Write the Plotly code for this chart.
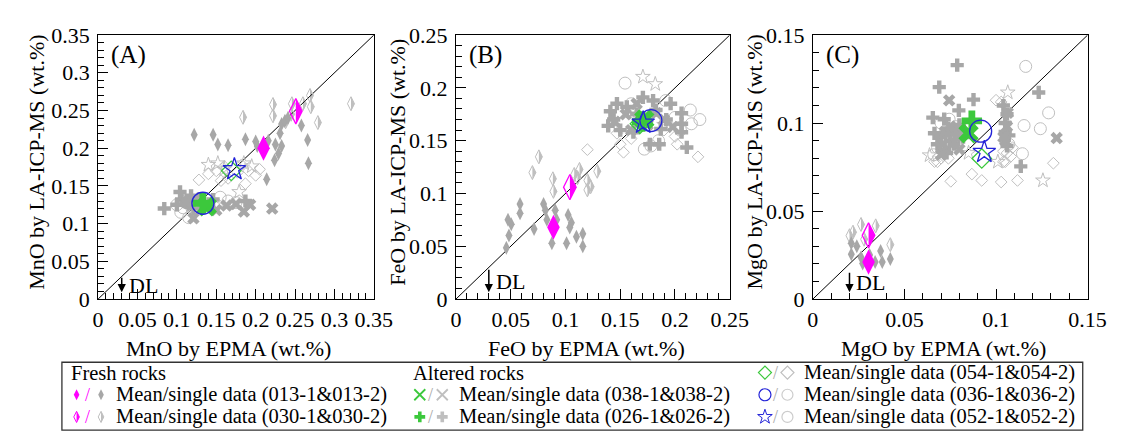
import plotly.graph_objects as go

W, H = 1126, 437
FONT = "Liberation Serif, Times New Roman, serif"

SAMPLES = ["013", "030", "038", "026", "054", "036", "052"]

# ---------------- Panel A : MnO ----------------
A_LIM = 0.35
A_013_x = [0.122, 0.146, 0.152, 0.165, 0.187, 0.202, 0.225, 0.231, 0.233, 0.237, 0.224, 0.214, 0.258, 0.266, 0.267, 0.233, 0.229, 0.241, 0.216, 0.200]
A_013_y = [0.218, 0.218, 0.205, 0.204, 0.212, 0.203, 0.205, 0.220, 0.232, 0.236, 0.184, 0.159, 0.230, 0.211, 0.180, 0.203, 0.193, 0.240, 0.210, 0.209]
A_030_x = [0.184, 0.222, 0.222, 0.246, 0.260, 0.269, 0.270, 0.279, 0.321, 0.238, 0.245]
A_030_y = [0.241, 0.258, 0.243, 0.259, 0.259, 0.270, 0.255, 0.234, 0.259, 0.235, 0.245]
A_038_x = [0.121, 0.175, 0.185, 0.193, 0.221, 0.163, 0.150, 0.112]
A_038_y = [0.107, 0.126, 0.116, 0.125, 0.120, 0.124, 0.118, 0.128]
A_026_x = [0.084, 0.104, 0.106, 0.112, 0.121, 0.100, 0.146, 0.187, 0.118, 0.128]
A_026_y = [0.120, 0.142, 0.132, 0.128, 0.120, 0.125, 0.132, 0.130, 0.137, 0.133]
A_054_x = [0.128, 0.140, 0.150, 0.160, 0.156, 0.187, 0.200, 0.191, 0.205, 0.177, 0.165, 0.182]
A_054_y = [0.158, 0.166, 0.170, 0.176, 0.157, 0.153, 0.164, 0.170, 0.172, 0.168, 0.160, 0.178]
A_036_x = [0.100, 0.105, 0.110, 0.120, 0.115, 0.155, 0.165, 0.175, 0.150, 0.108]
A_036_y = [0.125, 0.115, 0.130, 0.120, 0.108, 0.135, 0.130, 0.128, 0.125, 0.121]
A_052_x = [0.140, 0.152, 0.179, 0.185, 0.160, 0.195]
A_052_y = [0.178, 0.180, 0.142, 0.180, 0.172, 0.176]
A_mean_x = [0.210, 0.251, 0.138, 0.133, 0.169, 0.133, 0.173]
A_mean_y = [0.200, 0.249, 0.123, 0.127, 0.170, 0.127, 0.172]

# ---------------- Panel B : FeO ----------------
B_LIM = 0.25
B_013_x = [0.0475, 0.0505, 0.0484, 0.046, 0.0585, 0.0585, 0.0713, 0.080, 0.0817, 0.083, 0.0876, 0.0906, 0.092, 0.1024, 0.1054, 0.1039, 0.101, 0.110, 0.1158, 0.1158]
B_013_y = [0.0752, 0.0708, 0.0603, 0.0485, 0.090, 0.0812, 0.0663, 0.090, 0.0841, 0.075, 0.0529, 0.0841, 0.075, 0.0797, 0.0722, 0.0678, 0.0529, 0.0589, 0.0618, 0.050]
B_030_x = [0.0757, 0.0698, 0.0885, 0.089, 0.1128, 0.111, 0.120, 0.123, 0.129, 0.108, 0.120]
B_030_y = [0.1347, 0.1198, 0.1139, 0.102, 0.1228, 0.115, 0.1124, 0.1064, 0.121, 0.118, 0.1034]
B_038_x = [0.155, 0.165, 0.190, 0.160, 0.175, 0.145, 0.183, 0.198]
B_038_y = [0.175, 0.185, 0.170, 0.160, 0.165, 0.168, 0.176, 0.163]
B_026_x = [0.141, 0.144, 0.139, 0.156, 0.1707, 0.180, 0.1826, 0.187, 0.1856, 0.177, 0.206, 0.206, 0.206, 0.2108, 0.196, 0.162, 0.147, 0.165, 0.150, 0.192]
B_026_y = [0.1778, 0.170, 0.164, 0.182, 0.191, 0.188, 0.179, 0.161, 0.1466, 0.1466, 0.176, 0.166, 0.158, 0.1436, 0.185, 0.158, 0.185, 0.175, 0.160, 0.170]
B_054_x = [0.120, 0.150, 0.153, 0.200, 0.202, 0.221, 0.147, 0.160, 0.190]
B_054_y = [0.1415, 0.1466, 0.139, 0.154, 0.1466, 0.1347, 0.157, 0.152, 0.160]
B_036_x = [0.1544, 0.1915, 0.214, 0.2227, 0.215, 0.172, 0.185, 0.200, 0.160, 0.178, 0.205]
B_036_y = [0.2045, 0.188, 0.179, 0.170, 0.166, 0.142, 0.150, 0.172, 0.185, 0.145, 0.160]
B_052_x = [0.1707, 0.182, 0.165, 0.190]
B_052_y = [0.2105, 0.2036, 0.175, 0.165]
B_mean_x = [0.089, 0.104, 0.172, 0.170, 0.168, 0.178, 0.171]
B_mean_y = [0.068, 0.106, 0.170, 0.168, 0.166, 0.169, 0.167]

# ---------------- Panel C : MgO ----------------
C_LIM = 0.15
C_013_x = [0.021, 0.021, 0.0263, 0.0272, 0.037, 0.0379, 0.0423, 0.034, 0.024, 0.031]
C_013_y = [0.0317, 0.0255, 0.0237, 0.0202, 0.0273, 0.021, 0.0228, 0.021, 0.030, 0.025]
C_030_x = [0.0219, 0.0263, 0.0343, 0.0423, 0.020, 0.028]
C_030_y = [0.038, 0.0424, 0.0416, 0.0309, 0.036, 0.034]
C_038_x = [0.0744, 0.1331, 0.1064, 0.072, 0.076, 0.105, 0.080, 0.070, 0.075, 0.078, 0.071, 0.106, 0.104]
C_038_y = [0.1129, 0.0915, 0.1058, 0.095, 0.088, 0.090, 0.085, 0.082, 0.098, 0.092, 0.088, 0.098, 0.092]
C_026_x = [0.0788, 0.069, 0.0877, 0.0797, 0.0655, 0.0717, 0.0664, 0.1233, 0.1135, 0.075, 0.072, 0.078, 0.105, 0.106, 0.068, 0.082, 0.070, 0.074, 0.077, 0.073, 0.080, 0.105, 0.107, 0.104, 0.106]
C_026_y = [0.1329, 0.1204, 0.1133, 0.1072, 0.1031, 0.1022, 0.0942, 0.1174, 0.0754, 0.090, 0.085, 0.095, 0.095, 0.105, 0.088, 0.092, 0.092, 0.097, 0.088, 0.083, 0.099, 0.100, 0.093, 0.110, 0.087]
C_054_x = [0.0753, 0.0868, 0.0922, 0.1028, 0.1117, 0.1313, 0.0664, 0.105, 0.1028, 0.104, 0.070, 0.108, 0.068, 0.074, 0.104, 0.106, 0.109, 0.100]
C_054_y = [0.0669, 0.071, 0.0674, 0.0665, 0.0674, 0.0772, 0.0781, 0.078, 0.112, 0.084, 0.080, 0.081, 0.078, 0.080, 0.078, 0.083, 0.086, 0.113]
C_036_x = [0.1162, 0.1287, 0.1153, 0.1242, 0.1144, 0.0681, 0.0744, 0.107, 0.078, 0.066, 0.070]
C_036_y = [0.1322, 0.1058, 0.0986, 0.0968, 0.0826, 0.0861, 0.1022, 0.088, 0.098, 0.082, 0.100]
C_052_x = [0.1064, 0.1256, 0.0637, 0.101, 0.085]
C_052_y = [0.1174, 0.0674, 0.0817, 0.078, 0.083]
C_mean_x = [0.0304, 0.0304, 0.085, 0.0868, 0.0922, 0.0916, 0.0936]
C_mean_y = [0.021, 0.0362, 0.0942, 0.1013, 0.0799, 0.0954, 0.0835]

A_TICKS = [0, 0.05, 0.1, 0.15, 0.2, 0.25, 0.3, 0.35]
B_TICKS = [0, 0.05, 0.1, 0.15, 0.2, 0.25]
C_TICKS = [0, 0.05, 0.1, 0.15]

X_TITLES = ["MnO by EPMA (wt.%)", "FeO by EPMA (wt.%)", "MgO by EPMA (wt.%)"]
Y_TITLES = ["MnO by LA-ICP-MS (wt.%)", "FeO by LA-ICP-MS (wt.%)", "MgO by LA-ICP-MS (wt.%)"]
PANEL_LABELS = ["(A)", "(B)", "(C)"]
DL_X = [0.03, 0.03, 0.02]

LEG_HEADERS = ["Fresh rocks", "Altered rocks"]
LEG_LABELS = ["Mean/single data (%s-1&%s-2)" % (s, s) for s in SAMPLES]

# ---------------- styles ----------------
GRAY = "#a7a7a7"
LGRAY = "#bfbfbf"
GREEN = "#3cc83c"
BLUE = "#2323d8"
MAG = "#ff00ff"

fig = go.Figure()
shapes = []
annotations = []

panels = [
    dict(lim=A_LIM, ticks=A_TICKS, dom=(86, 368),
         single={"013": (A_013_x, A_013_y), "030": (A_030_x, A_030_y), "038": (A_038_x, A_038_y),
                 "026": (A_026_x, A_026_y), "054": (A_054_x, A_054_y), "036": (A_036_x, A_036_y),
                 "052": (A_052_x, A_052_y)},
         mean=(A_mean_x, A_mean_y), title_cx=219, ytitle_cx=23, dl_len=16),
    dict(lim=B_LIM, ticks=B_TICKS, dom=(452, 732),
         single={"013": (B_013_x, B_013_y), "030": (B_030_x, B_030_y), "038": (B_038_x, B_038_y),
                 "026": (B_026_x, B_026_y), "054": (B_054_x, B_054_y), "036": (B_036_x, B_036_y),
                 "052": (B_052_x, B_052_y)},
         mean=(B_mean_x, B_mean_y), title_cx=585, ytitle_cx=392, dl_len=24),
    dict(lim=C_LIM, ticks=C_TICKS, dom=(817, 1098),
         single={"013": (C_013_x, C_013_y), "030": (C_030_x, C_030_y), "038": (C_038_x, C_038_y),
                 "026": (C_026_x, C_026_y), "054": (C_054_x, C_054_y), "036": (C_036_x, C_036_y),
                 "052": (C_052_x, C_052_y)},
         mean=(C_mean_x, C_mean_y), title_cx=951, ytitle_cx=757, dl_len=21),
]

PLOT_TOP, PLOT_BOT = 16, 296

single_style = {
    "054": dict(symbol="diamond-open", size=9, color=LGRAY, line=dict(width=1, color=LGRAY)),
    "036": dict(symbol="circle-open", size=12, color=LGRAY, line=dict(width=1, color=LGRAY)),
    "052": dict(symbol="star-open", size=11, color=LGRAY, line=dict(width=1, color=LGRAY)),
    "026": dict(symbol="cross", size=11, color=GRAY, line=dict(width=0)),
    "038": dict(symbol="x", size=11, color=GRAY, line=dict(width=0)),
    "030": dict(symbol="diamond-tall-open", size=10, color=LGRAY, line=dict(width=1, color=LGRAY)),
    "013": dict(symbol="diamond-tall", size=10, color=GRAY, line=dict(width=0)),
}
single_order = ["054", "036", "052", "026", "038", "030", "013"]

mean_style = {
    "038": dict(symbol="x", size=18, color=GREEN, line=dict(width=0)),
    "026": dict(symbol="cross", size=17, color=GREEN, line=dict(width=0)),
    "054": dict(symbol="diamond-open", size=15, color=GREEN, line=dict(width=1.3, color=GREEN)),
    "036": dict(symbol="circle-open", size=22, color=BLUE, line=dict(width=1.3, color=BLUE)),
    "052": dict(symbol="star-open", size=17, color=BLUE, line=dict(width=1.3, color=BLUE)),
    "013": dict(symbol="diamond-tall", size=18, color=MAG, line=dict(width=0)),
    "030": dict(symbol="diamond-tall-open", size=18, color=MAG, line=dict(width=1.3, color=MAG)),
}
mean_order = ["038", "026", "054", "036", "052", "013", "030"]


def half_diamond(x, y, xref, yref, size, color, layer):
    hx = round(size / 2 * 0.7, 2)
    hy = round(size / 2 * 1.4, 2)
    return dict(type="path", xref=xref, yref=yref, xsizemode="pixel", ysizemode="pixel",
                xanchor=x, yanchor=y, path=f"M0,{hy} L{hx},0 L0,-{hy} Z",
                fillcolor=color, line=dict(width=0), layer=layer)


for i, p in enumerate(panels):
    n = "" if i == 0 else str(i + 1)
    xa, ya = "x" + n, "y" + n
    lim = p["lim"]
    # 1:1 line
    fig.add_trace(go.Scatter(x=[0, lim], y=[0, lim], mode="lines", line=dict(color="black", width=1),
                             xaxis=xa, yaxis=ya, showlegend=False, hoverinfo="skip"))
    for s in single_order:
        xs, ys = p["single"][s]
        fig.add_trace(go.Scatter(x=xs, y=ys, mode="markers", marker=single_style[s],
                                 xaxis=xa, yaxis=ya, showlegend=False))
        if s == "030":
            for x, y in zip(xs, ys):
                shapes.append(half_diamond(x, y, xa, ya, single_style[s]["size"], LGRAY, "below"))
    mx, my = p["mean"]
    for s in mean_order:
        k = SAMPLES.index(s)
        fig.add_trace(go.Scatter(x=[mx[k]], y=[my[k]], mode="markers", marker=mean_style[s],
                                 xaxis=xa, yaxis=ya, showlegend=False))
        if s == "030":
            shapes.append(half_diamond(mx[k], my[k], xa, ya, mean_style[s]["size"], MAG, "above"))

    dom = [p["dom"][0] / W, p["dom"][1] / W]
    ydom = [1 - PLOT_BOT / H, 1 - PLOT_TOP / H]
    common = dict(range=[-1e-9, lim + 1e-9], tickmode="array", tickvals=p["ticks"],
                  ticktext=[("%g" % t) for t in p["ticks"]],
                  ticks="inside", ticklen=10, tickwidth=1, tickcolor="black",
                  minor=dict(dtick=0.01, tick0=0, ticks="inside", ticklen=6, tickwidth=1,
                             tickcolor="black", showgrid=False),
                  showline=True, linecolor="black", linewidth=1, mirror=True,
                  showgrid=False, zeroline=False,
                  tickfont=dict(family=FONT, size=22, color="black"))
    fig.update_layout(**{
        "xaxis" + n: dict(domain=dom, anchor=ya, ticklabelstandoff=1, **common),
        "yaxis" + n: dict(domain=ydom, anchor=xa, ticklabelstandoff=3, **common),
    })
    # axis titles
    annotations.append(dict(xref="paper", yref="paper", x=p["title_cx"] / W, y=1 - 348 / H,
                            text=X_TITLES[i], showarrow=False, xanchor="center", yanchor="middle",
                            borderpad=0, font=dict(family=FONT, size=22, color="black")))
    annotations.append(dict(xref="paper", yref="paper", x=p["ytitle_cx"] / W, y=1 - 151 / H,
                            text=Y_TITLES[i], showarrow=False, textangle=-90,
                            xanchor="center", yanchor="middle", borderpad=0,
                            font=dict(family=FONT, size=22, color="black")))
    # panel label
    annotations.append(dict(xref=xa + " domain", yref=ya + " domain", x=0.04, y=0.925,
                            text=PANEL_LABELS[i], showarrow=False, xanchor="left", yanchor="middle",
                            font=dict(family=FONT, size=25, color="black")))
    # DL arrow
    head_y = lim * 0.026
    annotations.append(dict(xref=xa, yref=ya, x=DL_X[i], y=head_y, ax=0, ay=-p["dl_len"],
                            text="", showarrow=True, arrowhead=2, arrowsize=1.1, arrowwidth=1.5,
                            arrowcolor="black"))
    annotations.append(dict(xref=xa, yref=ya, x=DL_X[i], y=head_y, xshift=5, yshift=p["dl_len"] * 0.45,
                            text="DL", showarrow=False, xanchor="left", yanchor="middle",
                            font=dict(family=FONT, size=22, color="black")))

# ---------------- legend (drawn on a pixel overlay axis) ----------------
fig.update_layout(
    xaxis4=dict(domain=[0, 1], range=[0, W], visible=False, anchor="y4", fixedrange=True),
    yaxis4=dict(domain=[0, 1], range=[H, 0], visible=False, anchor="x4", fixedrange=True),
)
shapes.append(dict(type="rect", xref="paper", yref="paper", x0=49 / W, x1=1093 / W,
                   y0=1 - 435 / H, y1=1 - 363 / H, line=dict(color="#333333", width=1.3),
                   fillcolor="rgba(0,0,0,0)"))
ROW_Y = [374, 397.5, 421]
LEG_FS = 20.5
header_pos = [(57, ROW_Y[0]), (407, ROW_Y[0])]
for t, (hx, hy) in zip(LEG_HEADERS, header_pos):
    annotations.append(dict(xref="x4", yref="y4", x=hx, y=hy, text=t, showarrow=False, borderpad=0,
                            xanchor="left", yanchor="middle", font=dict(family=FONT, size=LEG_FS, color="black")))

leg_pos = {"013": (64, ROW_Y[1]), "030": (64, ROW_Y[2]), "038": (415, ROW_Y[1]), "026": (415, ROW_Y[2]),
           "054": (768, ROW_Y[0]), "036": (768, ROW_Y[1]), "052": (768, ROW_Y[2])}
leg_mean = {
    "013": dict(symbol="diamond-tall", size=8, color=MAG, line=dict(width=0)),
    "030": dict(symbol="diamond-tall-open", size=8, color=MAG, line=dict(width=1, color=MAG)),
    "038": dict(symbol="x-thin-open", size=11, color=GREEN, line=dict(width=1.8, color=GREEN)),
    "026": dict(symbol="cross", size=9, color=GREEN, line=dict(width=0)),
    "054": dict(symbol="diamond-open", size=10, color=GREEN, line=dict(width=1.2, color=GREEN)),
    "036": dict(symbol="circle-open", size=12, color=BLUE, line=dict(width=1.2, color=BLUE)),
    "052": dict(symbol="star-open", size=11, color=BLUE, line=dict(width=1, color=BLUE)),
}
leg_single = {
    "013": dict(symbol="diamond-tall", size=8, color=GRAY, line=dict(width=0)),
    "030": dict(symbol="diamond-tall-open", size=8, color=LGRAY, line=dict(width=1, color=LGRAY)),
    "038": dict(symbol="x-thin-open", size=11, color=LGRAY, line=dict(width=1.8, color=LGRAY)),
    "026": dict(symbol="cross", size=9, color=LGRAY, line=dict(width=0)),
    "054": dict(symbol="diamond-open", size=10, color=LGRAY, line=dict(width=1.2, color=LGRAY)),
    "036": dict(symbol="circle-open", size=11, color="#cccccc", line=dict(width=1.2, color="#cccccc")),
    "052": dict(symbol="circle-open", size=11, color="#cccccc", line=dict(width=1.2, color="#cccccc")),
}
for s in SAMPLES:
    lx, ly = leg_pos[s]
    sx = lx + (25 if s in ("013", "030") else 23)
    fig.add_trace(go.Scatter(x=[lx], y=[ly], mode="markers", marker=leg_mean[s], xaxis="x4", yaxis="y4",
                             showlegend=False, hoverinfo="skip", cliponaxis=False))
    fig.add_trace(go.Scatter(x=[sx], y=[ly], mode="markers", marker=leg_single[s], xaxis="x4", yaxis="y4",
                             showlegend=False, hoverinfo="skip", cliponaxis=False))
    if s == "030":
        shapes.append(half_diamond(lx, ly, "x4", "y4", 8, MAG, "above"))
        shapes.append(half_diamond(sx, ly, "x4", "y4", 8, LGRAY, "above"))
    slash_col = MAG if s in ("013", "030") else "#aaaaaa"
    annotations.append(dict(xref="x4", yref="y4", x=lx + 11, y=ly, text="/", showarrow=False, borderpad=0,
                            xanchor="center", yanchor="middle", font=dict(family=FONT, size=18, color=slash_col)))
    annotations.append(dict(xref="x4", yref="y4", x=lx + 39, y=ly, text=LEG_LABELS[SAMPLES.index(s)],
                            showarrow=False, xanchor="left", yanchor="middle", borderpad=0,
                            font=dict(family=FONT, size=LEG_FS, color="black")))

fig.update_layout(width=W, height=H, margin=dict(l=0, r=0, t=0, b=0),
                  paper_bgcolor="white", plot_bgcolor="rgba(0,0,0,0)",
                  showlegend=False, shapes=shapes, annotations=annotations,
                  font=dict(family=FONT, size=22, color="black"))

fig.write_html("out.html")
